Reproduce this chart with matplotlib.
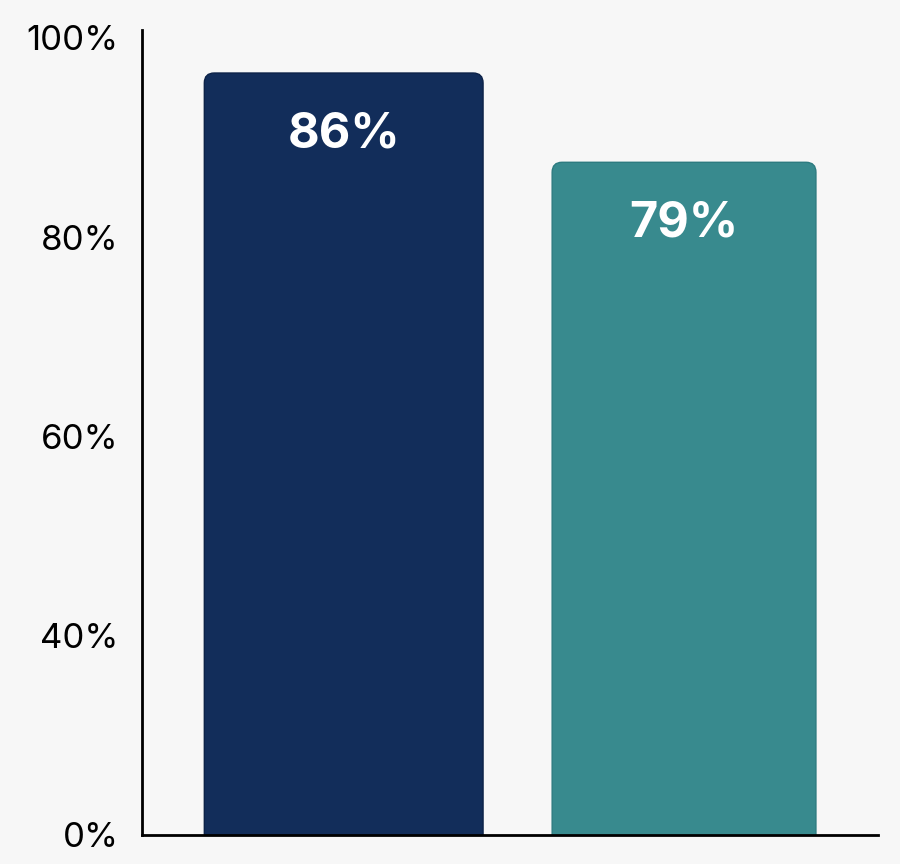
import matplotlib
matplotlib.use("Agg")
import matplotlib.pyplot as plt
from matplotlib.patches import FancyBboxPatch

# data (bar heights as read on the axis scale, printed labels as shown)
categories = ["A", "B"]
bar_heights = [95.6, 84.4]
bar_labels = ["86%", "79%"]
tick_positions = [0, 25, 50, 75, 100]
tick_labels = ["0%", "40%", "60%", "80%", "100%"]

colors = ["#122d5a", "#388a8e"]
edge_colors = ["#0c2248", "#2c7b80"]
widths = [0.819, 0.775]

plt.rcParams['font.family'] = ['Inter', 'DejaVu Sans']
fig = plt.figure(figsize=(9, 8.64), dpi=100, facecolor="#f7f7f7")
ax = fig.add_axes([0.158, 0.0336, 0.8176, 0.9317])
ax.set_facecolor("#f7f7f7")

ax.set_xlim(-0.592, 1.570)
ax.set_ylim(0, 101)

rx = 0.029
ry = 1.25
for i, (h, lab) in enumerate(zip(bar_heights, bar_labels)):
    w = widths[i]
    p = FancyBboxPatch((i - w / 2, -5), w, h + 5,
                       boxstyle=f"round,pad=0,rounding_size={rx}",
                       mutation_aspect=ry / rx,
                       facecolor=colors[i], edgecolor=edge_colors[i],
                       linewidth=1.0, zorder=2)
    p.set_clip_on(True)
    ax.add_patch(p)
    ax.text(i, h - 7.7, lab, ha="center", va="center", color="white",
            fontsize=35, fontweight="bold", zorder=3)

ax.set_yticks(tick_positions)
ax.set_yticklabels(tick_labels, fontsize=25, color="black")
ax.tick_params(axis="y", length=0, pad=17)
ax.set_xticks([])

for s in ["top", "right"]:
    ax.spines[s].set_visible(False)
for s in ["left", "bottom"]:
    ax.spines[s].set_linewidth(2.0)
    ax.spines[s].set_color("black")
    ax.spines[s].set_zorder(4)

fig.savefig("out.png", dpi=100, facecolor=fig.get_facecolor())
